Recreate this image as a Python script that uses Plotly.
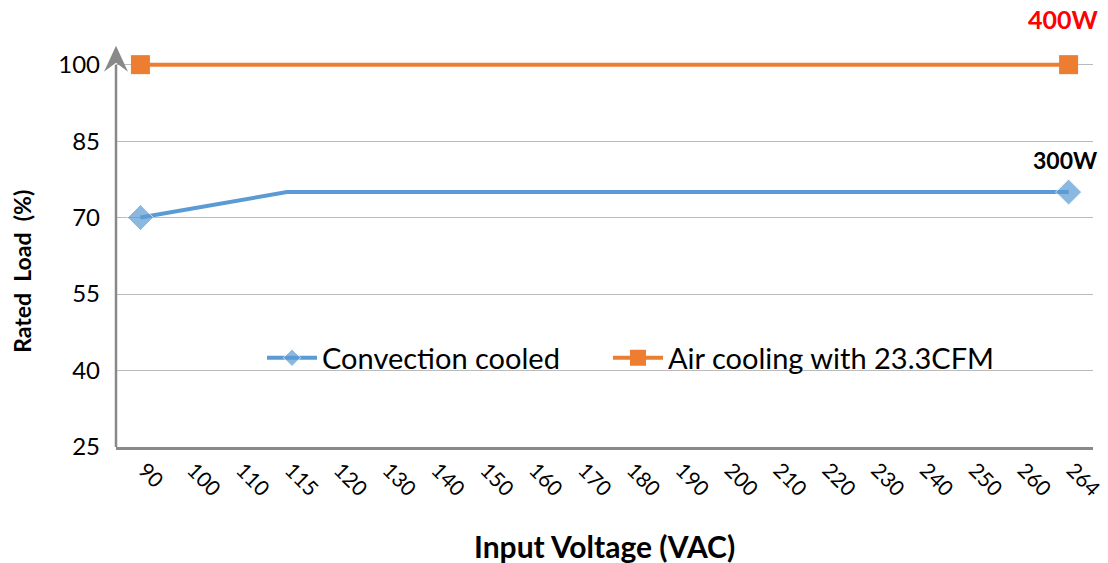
import plotly.graph_objects as go

categories = ["90", "100", "110", "115", "120", "130", "140", "150", "160", "170",
              "180", "190", "200", "210", "220", "230", "240", "250", "260", "264"]
conv_x = ["90", "115", "264"]
conv_y = [70, 75, 75]
air_x = ["90", "264"]
air_y = [100, 100]
y_ticks = [25, 40, 55, 70, 85, 100]

FONT = "Lato"
AXIS_COLOR = "#898989"
GRID_COLOR = "#bcbcbc"

W, H = 1108, 563
PL, PR, PB = 116, 1093, 447
YMAX = 101.5
PT = PB - (YMAX - 25) * (382 / 75)
PW, PH = PR - PL, PB - PT


def px(x):
    return (x - PL) / PW


def py(y):
    return (PB - y) / PH


fig = go.Figure()
fig.add_trace(go.Scatter(
    x=conv_x, y=conv_y, mode="lines+markers", name="Convection cooled",
    line=dict(color="#5B9BD5", width=4),
    marker=dict(symbol="diamond", size=[20, 0, 20], color="#5B9BD5"),
    cliponaxis=False, legend="legend",
))
fig.add_trace(go.Scatter(
    x=air_x, y=air_y, mode="lines+markers", name="Air cooling with 23.3CFM",
    line=dict(color="#ED7D31", width=4),
    marker=dict(symbol="square", size=19, color="#ED7D31"),
    cliponaxis=False, legend="legend2",
))

# white box behind legend (covers gridline)
fig.add_shape(type="rect", xref="paper", yref="paper",
              x0=px(218), x1=px(1040), y0=py(385), y1=py(330),
              fillcolor="white", line=dict(width=0), layer="between")

# y axis line with arrow
fig.add_shape(type="line", xref="paper", yref="paper", x0=0, x1=0, y0=0, y1=py(65),
              line=dict(color=AXIS_COLOR, width=2.5), layer="above")
fig.add_shape(type="path", xref="paper", yref="paper",
              xsizemode="pixel", ysizemode="pixel", xanchor=0, yanchor=py(65),
              path="M 0 19 L -12 -7 L 0 2 L 12 -7 Z",
              fillcolor=AXIS_COLOR, line=dict(width=0), layer="above")

fig.add_annotation(text="<b>400W</b>", x=px(1063), y=py(19), xref="paper", yref="paper",
                   xanchor="center", yanchor="middle", showarrow=False,
                   font=dict(family=FONT, size=25, color="#FF0000"))
fig.add_annotation(text="<b>300W</b>", x=px(1065), y=py(160), xref="paper", yref="paper",
                   xanchor="center", yanchor="middle", showarrow=False,
                   font=dict(family=FONT, size=23, color="#000000"))
# axis titles
fig.add_annotation(text="<b>Input Voltage (VAC)</b>", x=px(604), y=py(546), xref="paper", yref="paper",
                   xanchor="center", yanchor="middle", showarrow=False,
                   font=dict(family=FONT, size=30, color="#000000"))
fig.add_annotation(text="<b>Rated  Load  (%)</b>", x=px(22), y=py(272), xref="paper", yref="paper",
                   xanchor="center", yanchor="middle", showarrow=False, textangle=-90,
                   font=dict(family=FONT, size=23, color="#000000"))

legend_common = dict(orientation="h", yanchor="middle", xanchor="left",
                     bgcolor="rgba(0,0,0,0)", itemwidth=50,
                     font=dict(family=FONT, size=29))

fig.update_layout(
    width=W, height=H,
    margin=dict(l=PL, r=W - PR, t=PT, b=H - PB, pad=0),
    paper_bgcolor="white", plot_bgcolor="white",
    font=dict(family=FONT, size=20, color="#000000"),
    showlegend=True,
    legend=dict(x=px(262), y=py(358), **legend_common),
    legend2=dict(x=px(608), y=py(358), **legend_common),
    xaxis=dict(type="category", categoryorder="array", categoryarray=categories,
               tickmode="array", tickvals=categories, ticktext=categories,
               range=[-0.5, 19.5], tickangle=45, showgrid=False, automargin=False,
               showline=True, linecolor=AXIS_COLOR, linewidth=2.5,
               ticks="", tickfont=dict(size=21), ticklabelshift=4),
    yaxis=dict(range=[25, YMAX], tickmode="array", tickvals=y_ticks, automargin=False,
               showgrid=True, gridcolor=GRID_COLOR, gridwidth=1.2,
               zeroline=False, showline=False, ticks="",
               tickfont=dict(size=24), ticklabelstandoff=15),
)

fig.write_html("out.html", config={"displayModeBar": False},
               post_script="document.body.style.margin='0';document.body.style.padding='0';")
